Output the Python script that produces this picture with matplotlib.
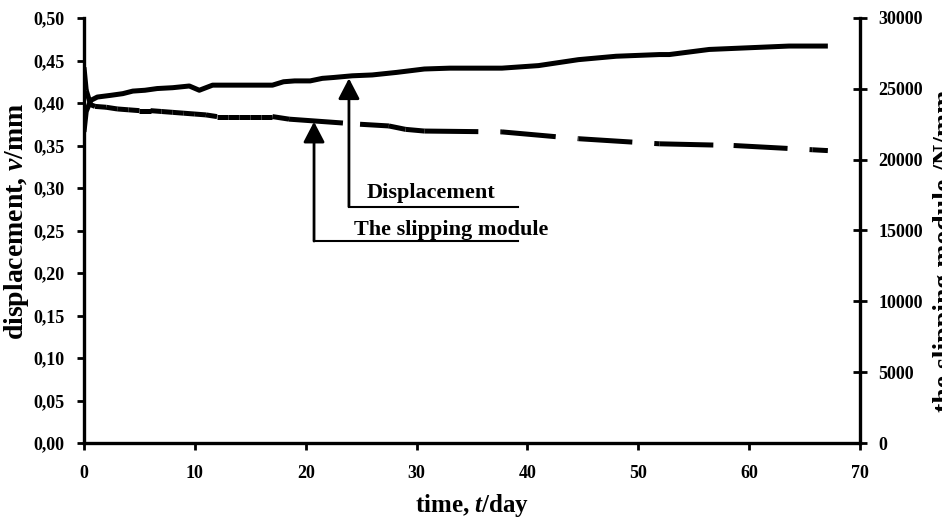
import numpy as np
import matplotlib
matplotlib.use('Agg')
import matplotlib.pyplot as plt
from matplotlib.collections import LineCollection
from matplotlib.ticker import FuncFormatter

plt.rcParams['font.family'] = ['Liberation Serif', 'DejaVu Serif']
plt.rcParams['font.weight'] = 'bold'
plt.rcParams['mathtext.fontset'] = 'custom'
plt.rcParams['mathtext.rm'] = 'Liberation Serif:bold'
plt.rcParams['mathtext.it'] = 'Liberation Serif:italic:bold'

# displacement v/mm (left axis)
disp_t = [0, 0.2, 0.6, 1.2, 2.4, 3.5, 4.4, 5.5, 6.6, 8, 9.5, 10.4, 11.6, 13, 15, 17, 18, 19,
          20.4, 21.5, 22.5, 24.2, 26, 28.2, 30.7, 33, 37.7, 41, 44.6, 48, 51.9, 52.8, 56.4,
          60, 63.6, 67.1]
disp_v = [0.366, 0.390, 0.403, 0.407, 0.409, 0.411, 0.414, 0.415, 0.417, 0.418, 0.420, 0.415,
          0.421, 0.421, 0.421, 0.421, 0.425, 0.426, 0.426, 0.429, 0.430, 0.432, 0.433, 0.436,
          0.440, 0.441, 0.441, 0.444, 0.451, 0.455, 0.457, 0.457, 0.463, 0.465, 0.467, 0.467]

# slipping module N/mm (right axis)
mod_t = [0, 0.2, 0.6, 1, 2, 3, 4, 5, 6, 7, 8, 9, 10, 11, 12, 13, 14, 15, 16, 17, 18.5, 24.9,
         27.5, 29, 30.7, 37.7, 44.6, 51.9, 58.6, 65.7, 67.1]
mod_v = [26520, 24900, 23880, 23760, 23700, 23580, 23520, 23460, 23460, 23400, 23340, 23280,
         23220, 23160, 23040, 23040, 23040, 23040, 23040, 23040, 22860, 22500, 22380, 22140,
         22020, 21960, 21480, 21120, 21000, 20700, 20640]

left_ticks = [0, 0.05, 0.10, 0.15, 0.20, 0.25, 0.30, 0.35, 0.40, 0.45, 0.50]
right_ticks = [0, 5000, 10000, 15000, 20000, 25000, 30000]
x_ticks = [0, 10, 20, 30, 40, 50, 60, 70]

fig = plt.figure(figsize=(9.42, 5.19), dpi=100)
ax = fig.add_axes([84/942, 1 - 443/519, 776/942, 425/519])
ax2 = ax.twinx()

ax.plot(disp_t, disp_v, color='black', lw=3.6, solid_capstyle='butt', solid_joinstyle='round', zorder=3)

# excel style dashes: the pattern starts again at every point
segs = [[(mod_t[i], mod_v[i]), (mod_t[i + 1], mod_v[i + 1])] for i in range(len(mod_t) - 1)]
lc = LineCollection(segs, colors='black', linewidths=3.6, linestyles=[(0, (10.8, 4.4))],
                    capstyle='butt', zorder=3)
ax2.add_collection(lc)

ax.set_xlim(0, 70)
ax.set_ylim(0, 0.5)
ax2.set_ylim(0, 30000)
ax.set_xticks(x_ticks)
ax.set_yticks(left_ticks)
ax2.set_yticks(right_ticks)
ax.yaxis.set_major_formatter(FuncFormatter(lambda v, p: ('%.2f' % v).replace('.', ',')))

for a in (ax, ax2):
    a.spines['top'].set_visible(False)
    for s in ('left', 'right', 'bottom'):
        a.spines[s].set_linewidth(2.4)
ax.spines['right'].set_visible(False)
ax2.spines['left'].set_visible(False)
ax2.spines['bottom'].set_visible(False)

ax.tick_params(axis='x', direction='out', length=5, width=2, pad=11, labelsize=13)
ax.tick_params(axis='y', direction='out', length=5, width=2, pad=9, labelsize=13)
ax2.tick_params(axis='y', direction='inout', length=10, width=2, pad=8, labelsize=13)

# arrows with labels
ax.annotate('', xy=(23.9, 0.429), xytext=(23.9, 0.278),
            arrowprops=dict(arrowstyle='-|>,head_length=1.25,head_width=0.65', lw=2, color='black',
                            shrinkA=0, shrinkB=0), zorder=4)
ax.plot([23.9, 39.15], [0.278, 0.278], color='black', lw=1.5)
ax.text(25.5, 0.288, 'Displacement', fontsize=16, fontweight='bold', ha='left', va='baseline')

ax.annotate('', xy=(20.75, 0.378), xytext=(20.75, 0.2376),
            arrowprops=dict(arrowstyle='-|>,head_length=1.25,head_width=0.65', lw=2, color='black',
                            shrinkA=0, shrinkB=0), zorder=4)
ax.plot([20.75, 39.15], [0.2376, 0.2376], color='black', lw=1.5)
ax.text(24.4, 0.2447, 'The slipping module', fontsize=16, fontweight='bold', ha='left', va='baseline')

fig.text(472/942, 0.0, 'time, $t$/day', fontsize=18, fontweight='bold', ha='center', va='bottom')
fig.text(17/942, 1 - 221/519, 'displacement, $v$/mm', fontsize=20, fontweight='bold',
         rotation=90, ha='center', va='center')
# the reference cuts this label at the right edge
fig.text(946/942, 1 - 251/519, 'the slipping module /N/mm', fontsize=20, fontweight='bold',
         rotation=90, ha='center', va='center')

fig.savefig('out.png', dpi=100)
